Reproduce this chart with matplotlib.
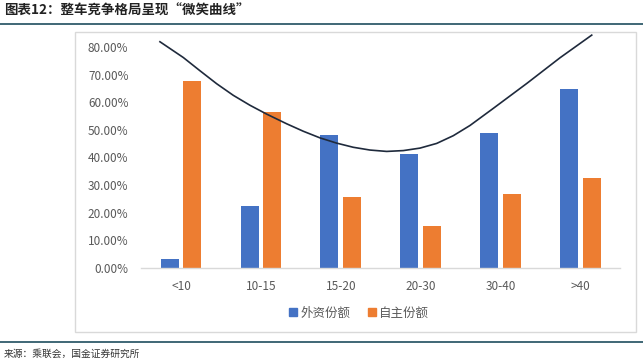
import matplotlib
matplotlib.use('Agg')
import matplotlib.pyplot as plt
from matplotlib.patches import Rectangle
from matplotlib.lines import Line2D
from matplotlib.ticker import FuncFormatter

plt.rcParams['font.family'] = ['Noto Sans CJK SC', 'DejaVu Sans']

# data
categories = ['<10', '10-15', '15-20', '20-30', '30-40', '>40']
foreign_share = [0.033, 0.225, 0.482, 0.413, 0.490, 0.647]
domestic_share = [0.678, 0.566, 0.258, 0.152, 0.268, 0.326]
series_names = ['外资份额', '自主份额']

# hand-drawn "smile" curve (x in category units)
curve_x = [-0.263, 0.029, 0.238, 0.447, 0.655, 0.864, 1.073, 1.323, 1.531,
           1.740, 1.949, 2.156, 2.365, 2.574, 2.782, 2.991, 3.200, 3.408,
           3.617, 3.909, 4.327, 4.743, 5.140]
curve_y = [0.819, 0.762, 0.714, 0.667, 0.625, 0.589, 0.557, 0.522, 0.495,
           0.471, 0.452, 0.437, 0.427, 0.422, 0.425, 0.434, 0.451, 0.479,
           0.516, 0.578, 0.668, 0.761, 0.843]

W, H = 643, 362
fig = plt.figure(figsize=(W / 100, H / 100), dpi=100)

# chart frame
fig.patches.append(Rectangle((75 / W, 1 - 332 / H), 561 / W, 300 / H,
                             transform=fig.transFigure, facecolor='none',
                             edgecolor='#d9d9d9', linewidth=1.0, zorder=-1))

ax = fig.add_axes([141 / W, 1 - 268 / H, 479.5 / W, 221 / H])
ax.set_facecolor('none')

x = list(range(len(categories)))
bw = 0.225
off = 0.142
ax.bar([i - off for i in x], foreign_share, bw, color='#4472C4', zorder=2)
ax.bar([i + off for i in x], domestic_share, bw, color='#ED7D31', zorder=2)
ax.plot(curve_x, curve_y, color='#1f2a3c', linewidth=1.2, clip_on=False,
        solid_joinstyle='round', zorder=3)

ax.set_xlim(-0.5, 5.5)
ax.set_ylim(0, 0.8)
ax.set_yticks([i / 10 for i in range(9)])
ax.yaxis.set_major_formatter(FuncFormatter(lambda v, p: f'{v:.2%}'))
ax.set_xticks(x)
ax.set_xticklabels(categories)
ax.tick_params(axis='both', length=0, labelsize=8.5, labelcolor='#595959')
ax.tick_params(axis='y', pad=9)
ax.tick_params(axis='x', pad=9)
for s in ['top', 'right', 'left']:
    ax.spines[s].set_visible(False)
ax.spines['bottom'].set_color('#d9d9d9')
ax.spines['bottom'].set_linewidth(1.0)

handles = [Line2D([], [], marker='s', linestyle='none', markersize=6, color='#4472C4'),
           Line2D([], [], marker='s', linestyle='none', markersize=6, color='#ED7D31')]
fig.legend(handles, series_names, loc='center', bbox_to_anchor=(358 / W, 1 - 313 / H),
           ncol=2, frameon=False, fontsize=9, labelcolor='#595959',
           handletextpad=0.1, columnspacing=1.2, handlelength=1.0)

# title and source
fig.text(4 / W, 1 - 11 / H, '图表12：整车竞争格局呈现“微笑曲线”', fontsize=9.7,
         fontweight='bold', color='#222222', va='center', ha='left')
fig.add_artist(Line2D([0, 1], [1 - 24 / H, 1 - 24 / H], transform=fig.transFigure,
                      color='#1f4e5f', linewidth=1.2))
fig.add_artist(Line2D([0, 1], [1 - 341.5 / H, 1 - 341.5 / H], transform=fig.transFigure,
                      color='#1f4e5f', linewidth=1.2))
fig.text(4 / W, 1 - 354 / H, '来源：乘联会，国金证券研究所', fontsize=7,
         color='#333333', va='center', ha='left')

fig.savefig('out.png', dpi=100)
